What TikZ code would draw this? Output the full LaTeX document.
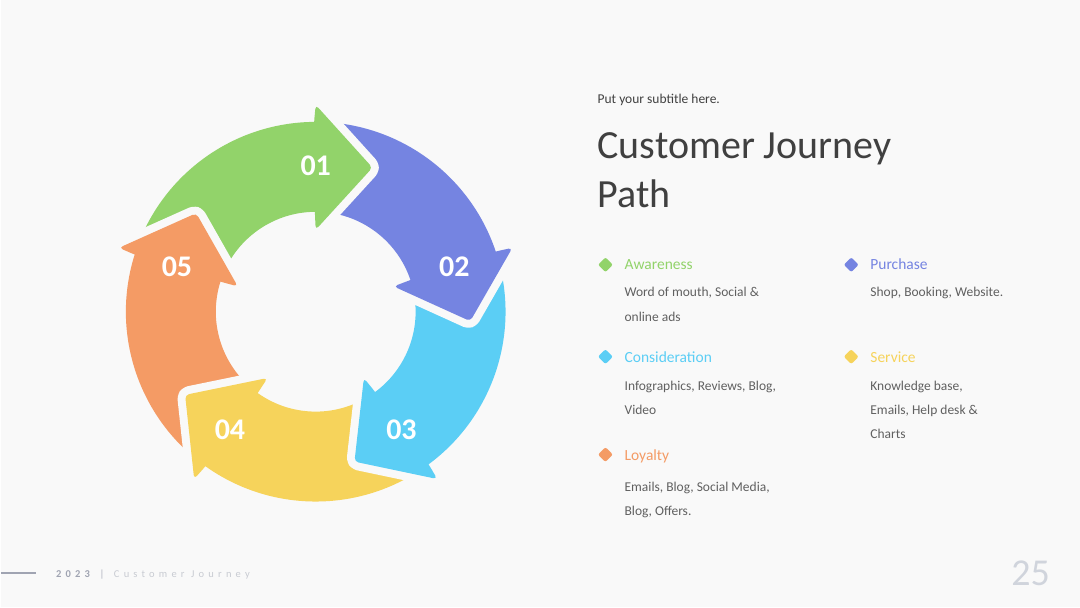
\documentclass[tikz,border=0pt]{standalone}
\usepackage{fontspec}
\setmainfont{Carlito}
\newfontfamily\footfont[LetterSpace=40]{Carlito}
\usetikzlibrary{calc}
\definecolor{pagebg}{RGB}{249,249,249}
\definecolor{arrgreen}{RGB}{146,211,106}
\definecolor{arrpurple}{RGB}{117,132,225}
\definecolor{arrcyan}{RGB}{91,206,245}
\definecolor{arryellow}{RGB}{246,211,91}
\definecolor{arrorange}{RGB}{244,155,101}
\definecolor{titlegray}{RGB}{64,64,64}
\definecolor{textgray}{RGB}{96,96,96}
\definecolor{footdark}{RGB}{160,164,178}
\definecolor{footlight}{RGB}{200,203,210}
\definecolor{pagenum}{RGB}{208,212,220}

\tikzset{
  steplabel/.style={text=white,font=\fontsize{30}{30}\selectfont\bfseries},
  legdot/.style={rectangle,rotate=45,minimum size=10.5pt,inner sep=0pt,rounded corners=2pt},
  legtitle/.style={anchor=base west,inner sep=0pt,font=\fontsize{15.5}{18}\selectfont},
  legtext/.style={anchor=base west,inner sep=0pt,text=textgray,font=\fontsize{13.5}{16}\selectfont},
}

\begin{document}
\begin{tikzpicture}[x=1pt,y=1pt]
\fill[pagebg] (0,0) rectangle (1080,608);
\coordinate (c) at (315,296);

% --- ring bodies (run 2 deg under the next head) ---
\foreach \a/\col in {162/arrgreen,90/arrpurple,18/arrcyan,-54/arryellow,-126/arrorange}{
  \fill[\col] ($(c)+(\a:190)$) arc[start angle=\a,end angle=\a-74,radius=190]
    -- ($(c)+(\a-74:100)$) arc[start angle=\a-74,end angle=\a,radius=100] -- cycle;
}

% --- arrow heads (gap, then head) ---
\foreach \b/\col/\num in {90/arrgreen/01,18/arrpurple/02,-54/arrcyan/03,-126/arryellow/04,162/arrorange/05}{
  \draw[pagebg,line width=16,line join=round,rounded corners=4]
    ($(c)+(\b:207)$) -- ($(c)+(\b-21.5:155)$) -- ($(c)+(\b:82)$);
  \fill[\col,rounded corners=4] ($(c)+(\b+0.5:190)$) -- ($(c)+(\b:207)$)
    -- ($(c)+(\b-21.5:155)$) -- ($(c)+(\b:82)$) -- ($(c)+(\b+0.5:100)$) -- cycle;
  \node[steplabel] (n\num) at ($(c)+(\b:146)$) {\num};
}

% --- heading ---
\node[anchor=base west,inner sep=0pt,text=titlegray,font=\fontsize{13.5}{16}\selectfont] (sub) at (597,504) {Put your subtitle here.};
\node[anchor=base west,inner sep=0pt,text=titlegray,font=\fontsize{40}{48}\selectfont] (title1) at (597,449) {Customer Journey};
\node[anchor=base west,inner sep=0pt,text=titlegray,font=\fontsize{40}{48}\selectfont] (title2) at (597,400) {Path};

% --- legend, left column ---
\node[legdot,fill=arrgreen] (dot1) at (605,343) {};
\node[legtitle,text=arrgreen] (leg1) at (624,338) {Awareness};
\node[legtext] at (624,311) {Word of mouth, Social \&};
\node[legtext] at (624,286) {online ads};

\node[legdot,fill=arrcyan] (dot3) at (605,251) {};
\node[legtitle,text=arrcyan] (leg3) at (624,245) {Consideration};
\node[legtext] at (624,217) {Infographics, Reviews, Blog,};
\node[legtext] at (624,193) {Video};

\node[legdot,fill=arrorange] (dot5) at (605,153) {};
\node[legtitle,text=arrorange] (leg5) at (624,147) {Loyalty};
\node[legtext] at (624,116) {Emails, Blog, Social Media,};
\node[legtext] at (624,92) {Blog, Offers.};

% --- legend, right column ---
\node[legdot,fill=arrpurple] (dot2) at (851,343) {};
\node[legtitle,text=arrpurple] (leg2) at (870,338) {Purchase};
\node[legtext] at (870,311) {Shop, Booking, Website.};

\node[legdot,fill=arryellow] (dot4) at (851,251) {};
\node[legtitle,text=arryellow] (leg4) at (870,245) {Service};
\node[legtext] at (870,217) {Knowledge base,};
\node[legtext] at (870,193) {Emails, Help desk \&};
\node[legtext] at (870,169) {Charts};

% --- footer ---
\draw[footdark,line width=2] (0,34) -- (35,34);
\node[anchor=base west,inner sep=0pt,font=\footfont\fontsize{10.5}{12}\selectfont] (foot) at (55,30)
  {\textcolor{footdark}{\bfseries 2023}\hspace{3pt} \textcolor{footdark!70!footlight}{|}\hspace{3pt} \textcolor{footlight}{Customer Journey}};
\node[anchor=base east,inner sep=0pt,text=pagenum,font=\fontsize{38}{40}\selectfont] (page) at (1050,22) {25};
\end{tikzpicture}
\end{document}
